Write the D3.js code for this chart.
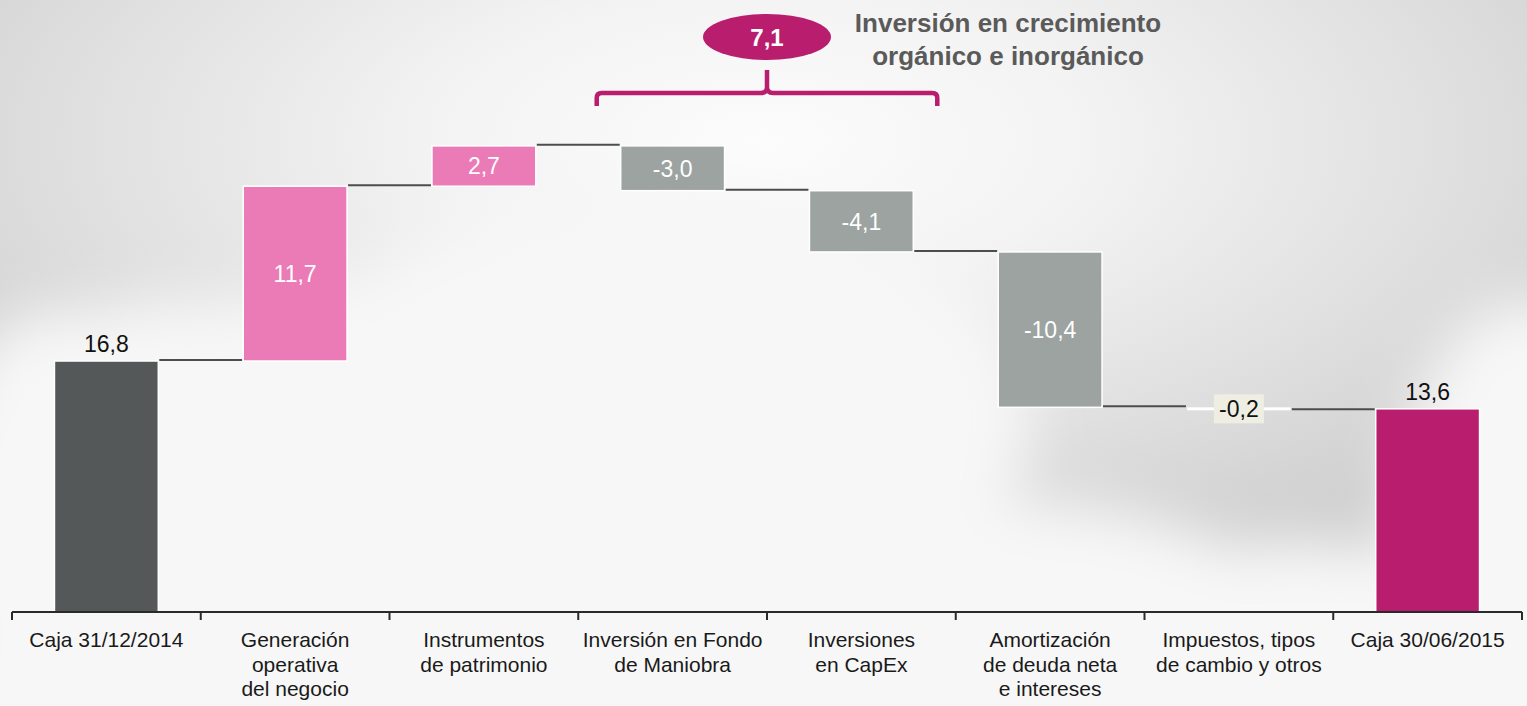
<!DOCTYPE html>
<html>
<head>
<meta charset="utf-8">
<script src="https://cdn.jsdelivr.net/npm/d3@7/dist/d3.min.js"></script>
<style>
  html, body { margin: 0; padding: 0; background: #f4f4f4; }
  svg { display: block; font-family: "Liberation Sans", Arial, sans-serif; }
</style>
</head>
<body>
<svg id="chart" width="1527" height="706"></svg>
<script>
// ---- Data ----
const categories = [
  "Caja 31/12/2014",
  "Generación operativa del negocio",
  "Instrumentos de patrimonio",
  "Inversión en Fondo de Maniobra",
  "Inversiones en CapEx",
  "Amortización de deuda neta e intereses",
  "Impuestos, tipos de cambio y otros",
  "Caja 30/06/2015"
];
const labelLines = [
  ["Caja 31/12/2014"],
  ["Generación", "operativa", "del negocio"],
  ["Instrumentos", "de patrimonio"],
  ["Inversión en Fondo", "de Maniobra"],
  ["Inversiones", "en CapEx"],
  ["Amortización", "de deuda neta", "e intereses"],
  ["Impuestos, tipos", "de cambio y otros"],
  ["Caja 30/06/2015"]
];
const values = [16.8, 11.7, 2.7, -3.0, -4.1, -10.4, -0.2, 13.6];
const kinds  = ["start", "pos", "pos", "neg", "neg", "neg", "small", "end"];
const valueLabels = ["16,8", "11,7", "2,7", "-3,0", "-4,1", "-10,4", "-0,2", "13,6"];
const bracketCategories = ["Inversión en Fondo de Maniobra", "Inversiones en CapEx"];
const bracketValueLabel = "7,1";
const titleLines = ["Inversión en crecimiento", "orgánico e inorgánico"];

// ---- Styles ----
const colors = { start: "#545858", pos: "#ea7bb6", neg: "#9ca3a1", small: "#ffffff", end: "#b91d6d" };
const accent = "#b91d6d";

const svg = d3.select("#chart");
const W = 1527, H = 706;

// ---- Background ----
const defs = svg.append("defs");
const sky = defs.append("radialGradient").attr("id", "sky")
  .attr("cx", 0.5).attr("cy", 0.2).attr("r", 0.72);
[[0, "#fcfcfc"], [0.3, "#f3f3f3"], [0.62, "#e0e0e0"], [1, "#c8c8c8"]]
  .forEach(([o, c]) => sky.append("stop").attr("offset", o).attr("stop-color", c));
const blur = defs.append("filter").attr("id", "blur")
  .attr("x", "-50%").attr("y", "-50%").attr("width", "200%").attr("height", "200%");
blur.append("feGaussianBlur").attr("stdDeviation", 28);

svg.append("rect").attr("width", W).attr("height", H).attr("fill", "url(#sky)");
const clouds = svg.append("g").attr("filter", "url(#blur)").attr("fill", "#f7f7f7");
[[650, 420, 380, 220], [180, 530, 260, 230], [400, 430, 260, 160], [1530, 540, 140, 240],
 [1000, 630, 300, 130], [1300, 650, 220, 110], [760, 730, 900, 200], [60, 440, 110, 130]]
  .forEach(([cx, cy, rx, ry]) => clouds.append("ellipse")
    .attr("cx", cx).attr("cy", cy).attr("rx", rx).attr("ry", ry));

// ---- Scales ----
const x = d3.scaleBand().domain(categories).range([12, 1522])
  .paddingInner(0.45).paddingOuter(0.225);
const y = d3.scaleLinear().domain([0, 40]).range([612, 14.4]);
const step = x.step();
const bw = x.bandwidth();

// ---- Waterfall computation ----
let running = 0;
const bars = values.map((v, i) => {
  let y0, y1;
  if (kinds[i] === "start" || kinds[i] === "end") { y0 = 0; y1 = v; running = v; }
  else { y0 = running; y1 = running + v; running = y1; }
  return { cat: categories[i], v, kind: kinds[i], lo: Math.min(y0, y1), hi: Math.max(y0, y1), end: y1, label: valueLabels[i] };
});

const g = svg.append("g");

// connectors
for (let i = 0; i < bars.length - 1; i++) {
  const level = bars[i].end;
  g.append("line")
    .attr("x1", x(bars[i].cat) + bw + 1).attr("x2", x(bars[i + 1].cat) - 1)
    .attr("y1", y(level) - 1).attr("y2", y(level) - 1)
    .attr("stroke", "#4d4d4d").attr("stroke-width", 2);
}

// bars
g.selectAll("rect.bar").data(bars).join("rect").attr("class", "bar")
  .attr("x", d => x(d.cat)).attr("width", bw)
  .attr("y", d => y(d.hi)).attr("height", d => y(d.lo) - y(d.hi))
  .attr("fill", d => colors[d.kind])
  .attr("stroke", d => d.kind === "small" ? "none" : "#ffffff").attr("stroke-width", 1.5);

// value labels
bars.forEach(d => {
  const cx = x(d.cat) + bw / 2;
  if (d.kind === "start" || d.kind === "end") {
    g.append("text").attr("x", cx).attr("y", y(d.hi) - 9)
      .attr("text-anchor", "middle").attr("font-size", 23).attr("fill", "#111").text(d.label);
  } else if (d.kind === "small") {
    const cy = (y(d.hi) + y(d.lo)) / 2;
    g.append("rect").attr("x", cx - 25).attr("y", cy - 14.5).attr("width", 50).attr("height", 29)
      .attr("fill", "#efeee3");
    g.append("text").attr("x", cx).attr("y", cy).attr("dy", "0.36em")
      .attr("text-anchor", "middle").attr("font-size", 23).attr("fill", "#111").text(d.label);
  } else {
    const cy = (y(d.hi) + y(d.lo)) / 2;
    g.append("text").attr("x", cx).attr("y", cy).attr("dy", "0.36em")
      .attr("text-anchor", "middle").attr("font-size", 23).attr("fill", "#ffffff").text(d.label);
  }
});

// ---- Axis ----
const axisY = y(0);
const axis = svg.append("g");
axis.append("line").attr("x1", 12).attr("x2", 1522).attr("y1", axisY).attr("y2", axisY)
  .attr("stroke", "#2a2a2a").attr("stroke-width", 2);
d3.range(categories.length + 1).forEach(i => {
  const tx = 12 + i * step;
  axis.append("line").attr("x1", tx).attr("x2", tx).attr("y1", axisY).attr("y2", axisY + 8)
    .attr("stroke", "#2a2a2a").attr("stroke-width", 2);
});
categories.forEach((c, i) => {
  const t = axis.append("text").attr("x", x(c) + bw / 2).attr("y", axisY + 35)
    .attr("text-anchor", "middle").attr("font-size", 21).attr("fill", "#1a1a1a");
  labelLines[i].forEach((ln, j) => t.append("tspan").attr("x", x(c) + bw / 2).attr("dy", j === 0 ? 0 : 24.5).text(ln));
});

// ---- Bracket annotation ----
const bl = x(bracketCategories[0]) - 24;
const br = x(bracketCategories[1]) + bw + 24;
const mid = (bl + br) / 2;
const by = 93;
svg.append("path")
  .attr("d", `M${bl},106 V98 Q${bl},${by} ${bl + 5},${by} H${mid - 6} Q${mid},${by} ${mid},${by - 6} V70
              M${mid},${by - 6} Q${mid},${by} ${mid + 6},${by} H${br - 5} Q${br},${by} ${br},98 V106`)
  .attr("fill", "none").attr("stroke", accent).attr("stroke-width", 4.5);
svg.append("ellipse").attr("cx", mid).attr("cy", 37).attr("rx", 64).attr("ry", 23).attr("fill", accent);
svg.append("text").attr("x", mid).attr("y", 37).attr("dy", "0.36em").attr("text-anchor", "middle")
  .attr("font-size", 24).attr("font-weight", "bold").attr("fill", "#ffffff").text(bracketValueLabel);
const title = svg.append("text").attr("x", 1008).attr("y", 32).attr("text-anchor", "middle")
  .attr("font-size", 26).attr("font-weight", "bold").attr("fill", "#5a5a5a");
titleLines.forEach((ln, j) => title.append("tspan").attr("x", 1008).attr("dy", j === 0 ? 0 : 33).text(ln));
</script>
</body>
</html>
